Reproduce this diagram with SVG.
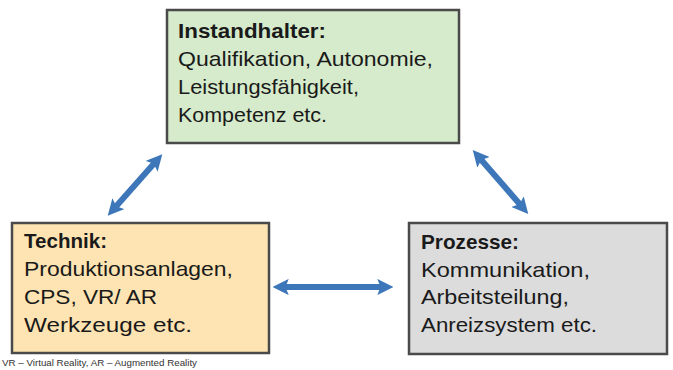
<svg xmlns="http://www.w3.org/2000/svg" width="673" height="370" viewBox="0 0 673 370">
<defs>
<marker id="ah" viewBox="0 0 10 10" refX="6" refY="5" markerWidth="2.7" markerHeight="2.7" orient="auto-start-reverse" markerUnits="strokeWidth">
<path d="M0,0 L10,5 L0,10 L2,5 Z" fill="#3d77b9"/>
</marker>
</defs>
<style>
.box{stroke:#4a4a4a;stroke-width:2.5}
.t{font-family:"Liberation Sans",Arial,sans-serif;font-size:21px;fill:#1a1a1a}
.b{font-weight:bold}
.c{stroke:#3d77b9;stroke-width:6;fill:none;marker-start:url(#ah);marker-end:url(#ah)}
</style>
<rect width="673" height="370" fill="#ffffff"/>
<g id="connectors">
<line class="c" x1="112" y1="211" x2="158" y2="159"/>
<line class="c" x1="477" y1="155" x2="524" y2="209"/>
<line class="c" x1="279" y1="287" x2="387" y2="287"/>
</g>
<g id="instandhalter">
<rect class="box" x="167" y="10" width="292" height="133" fill="#d6ebcb"/>
<text class="t" lengthAdjust="spacingAndGlyphs"><tspan class="b" x="178" y="38" textLength="148" lengthAdjust="spacingAndGlyphs">Instandhalter:</tspan><tspan x="178" y="66" textLength="255" lengthAdjust="spacingAndGlyphs">Qualifikation, Autonomie,</tspan><tspan x="178" y="94" textLength="181" lengthAdjust="spacingAndGlyphs">Leistungsfähigkeit,</tspan><tspan x="178" y="122" textLength="149" lengthAdjust="spacingAndGlyphs">Kompetenz etc.</tspan></text>
</g>
<g id="technik">
<rect class="box" x="12" y="223" width="257" height="130" fill="#fde4b2"/>
<text class="t"><tspan class="b" x="24" y="248" textLength="83" lengthAdjust="spacingAndGlyphs">Technik:</tspan><tspan x="24" y="276" textLength="209" lengthAdjust="spacingAndGlyphs">Produktionsanlagen,</tspan><tspan x="24" y="304" textLength="133" lengthAdjust="spacingAndGlyphs">CPS, VR/ AR</tspan><tspan x="24" y="332" textLength="168" lengthAdjust="spacingAndGlyphs">Werkzeuge etc.</tspan></text>
</g>
<g id="prozesse">
<rect class="box" x="409" y="223" width="258" height="131" fill="#dcdcdc"/>
<text class="t"><tspan class="b" x="421" y="249" textLength="98" lengthAdjust="spacingAndGlyphs">Prozesse:</tspan><tspan x="421" y="277" textLength="169" lengthAdjust="spacingAndGlyphs">Kommunikation,</tspan><tspan x="421" y="304" textLength="148" lengthAdjust="spacingAndGlyphs">Arbeitsteilung,</tspan><tspan x="421" y="332" textLength="176" lengthAdjust="spacingAndGlyphs">Anreizsystem etc.</tspan></text>
</g>
<text x="2" y="366" font-family="Liberation Sans, Arial, sans-serif" font-size="9" fill="#333" textLength="195" lengthAdjust="spacingAndGlyphs">VR – Virtual Reality, AR – Augmented Reality</text>
</svg>
